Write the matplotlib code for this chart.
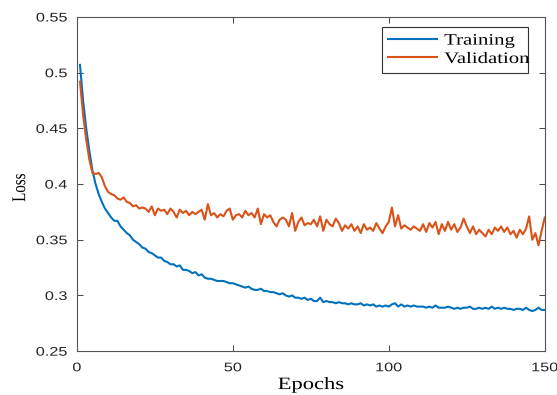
import matplotlib
matplotlib.use('Agg')
import matplotlib.pyplot as plt
import matplotlib.patheffects as pe
from matplotlib.transforms import Affine2D
import numpy as np

# loss per epoch
training = [
    0.507, 0.475, 0.450, 0.430, 0.412, 0.400, 0.391, 0.384, 0.378, 0.374,
    0.370, 0.367, 0.367, 0.362, 0.359, 0.356, 0.354, 0.350, 0.348, 0.346,
    0.343, 0.342, 0.339, 0.338, 0.336, 0.334, 0.334, 0.331, 0.330, 0.328,
    0.328, 0.326, 0.327, 0.323, 0.323, 0.322, 0.320, 0.321, 0.318, 0.319,
    0.316, 0.315, 0.315, 0.314, 0.313, 0.313, 0.313, 0.312, 0.311, 0.311,
    0.310, 0.309, 0.308, 0.307, 0.308, 0.306, 0.305, 0.305, 0.306, 0.304,
    0.304, 0.303, 0.303, 0.302, 0.301, 0.302, 0.300, 0.299, 0.300, 0.298,
    0.298, 0.297, 0.298, 0.296, 0.297, 0.295, 0.295, 0.298, 0.294, 0.295,
    0.294, 0.294, 0.293, 0.294, 0.293, 0.293, 0.292, 0.293, 0.292, 0.292,
    0.293, 0.291, 0.292, 0.291, 0.292, 0.290, 0.291, 0.290, 0.291, 0.290,
    0.292, 0.293, 0.290, 0.292, 0.290, 0.291, 0.290, 0.291, 0.290, 0.290,
    0.290, 0.289, 0.290, 0.289, 0.291, 0.289, 0.289, 0.289, 0.290, 0.289,
    0.288, 0.289, 0.288, 0.289, 0.289, 0.290, 0.288, 0.288, 0.289, 0.288,
    0.289, 0.288, 0.290, 0.288, 0.289, 0.288, 0.289, 0.288, 0.288, 0.287,
    0.288, 0.288, 0.287, 0.289, 0.287, 0.286, 0.287, 0.289, 0.287, 0.287,
]
validation = [
    0.492, 0.462, 0.440, 0.422, 0.410, 0.409, 0.410, 0.406, 0.398, 0.393,
    0.391, 0.390, 0.387, 0.386, 0.388, 0.384, 0.383, 0.380, 0.381, 0.378,
    0.379, 0.378, 0.375, 0.380, 0.372, 0.378, 0.376, 0.377, 0.373, 0.378,
    0.375, 0.370, 0.377, 0.374, 0.376, 0.372, 0.375, 0.373, 0.375, 0.377,
    0.368, 0.382, 0.372, 0.374, 0.370, 0.373, 0.371, 0.376, 0.378, 0.368,
    0.372, 0.373, 0.370, 0.376, 0.372, 0.374, 0.370, 0.378, 0.364, 0.373,
    0.370, 0.372, 0.366, 0.362, 0.368, 0.370, 0.368, 0.362, 0.374, 0.358,
    0.366, 0.370, 0.363, 0.365, 0.364, 0.368, 0.362, 0.371, 0.358, 0.368,
    0.364, 0.362, 0.369, 0.365, 0.358, 0.363, 0.360, 0.364, 0.358, 0.362,
    0.356, 0.364, 0.359, 0.361, 0.358, 0.365, 0.360, 0.356, 0.362, 0.366,
    0.379, 0.362, 0.372, 0.360, 0.363, 0.361, 0.359, 0.362, 0.360, 0.358,
    0.364, 0.357, 0.365, 0.361, 0.366, 0.355, 0.364, 0.358, 0.366, 0.359,
    0.364, 0.357, 0.361, 0.369, 0.362, 0.356, 0.362, 0.355, 0.359, 0.356,
    0.353, 0.359, 0.355, 0.361, 0.358, 0.362, 0.357, 0.361, 0.355, 0.358,
    0.352, 0.359, 0.355, 0.360, 0.371, 0.350, 0.356, 0.345, 0.358, 0.370,
]
epochs = np.arange(1, len(training) + 1)
xticks = [0, 50, 100, 150]
yticks = [0.25, 0.3, 0.35, 0.4, 0.45, 0.5, 0.55]
ytick_labels = ['0.25', '0.3', '0.35', '0.4', '0.45', '0.5', '0.55']

serif = 'Liberation Serif'
sans = 'Liberation Sans'


# the source figure was squashed vertically, so its text looks wide
class Stretch(pe.AbstractPathEffect):
    def __init__(self, sx=1.3, anchor='center'):
        super().__init__()
        self.sx = sx
        self.anchor = anchor

    def draw_path(self, renderer, gc, tpath, affine, rgbFace=None):
        ext = tpath.get_extents()
        cx = {'left': ext.x0, 'right': ext.x1,
              'center': 0.5 * (ext.x0 + ext.x1)}[self.anchor]
        t = Affine2D().translate(-cx, 0).scale(self.sx, 1).translate(cx, 0) + affine
        renderer.draw_path(gc, tpath, t, rgbFace)


fig = plt.figure(figsize=(5.57, 3.95), dpi=100)
ax = fig.add_axes([0.138, 0.111, 0.840, 0.846])

ax.plot(epochs, training, color='#0072BD', lw=1.5, label='Training')
ax.plot(epochs, validation, color='#D95319', lw=1.5, label='Validation')

ax.set_xlim(0, 150)
ax.set_ylim(0.25, 0.55)
ax.set_xticks(xticks)
ax.set_yticks(yticks)
ax.set_yticklabels(ytick_labels)

ax.tick_params(direction='in', top=True, right=True, length=4, width=0.6,
               colors='#262626', labelsize=9)
ax.tick_params(axis='x', pad=8)
ax.tick_params(axis='y', pad=7)
for lab in ax.get_xticklabels():
    lab.set_family(sans)
    lab.set_path_effects([Stretch(1.3, 'center')])
for lab in ax.get_yticklabels():
    lab.set_family(sans)
    lab.set_path_effects([Stretch(1.3, 'right')])
for s in ax.spines.values():
    s.set_color('#555555')
    s.set_linewidth(0.8)

xl = ax.set_xlabel('Epochs', fontsize=12.5, family=serif, labelpad=2)
xl.set_path_effects([Stretch(1.3, 'center')])
yl = ax.set_ylabel('Loss', fontsize=14, family=serif)
yl.set_path_effects([Stretch(1 / 1.3, 'center')])
ax.yaxis.set_label_coords(-0.102, 0.49)

leg = ax.legend(loc='upper left', bbox_to_anchor=(0.652, 0.0, 0.312, 0.970),
                mode='expand', prop={'family': serif, 'size': 11.5},
                fancybox=False, framealpha=1, edgecolor='#333333',
                handlelength=3.1, borderpad=0.35, labelspacing=0.15,
                borderaxespad=0.0, handletextpad=0.45)
leg.get_frame().set_linewidth(0.8)
for t in leg.get_texts():
    t.set_path_effects([Stretch(1.3, 'left')])

fig.savefig('out.png', dpi=100)
